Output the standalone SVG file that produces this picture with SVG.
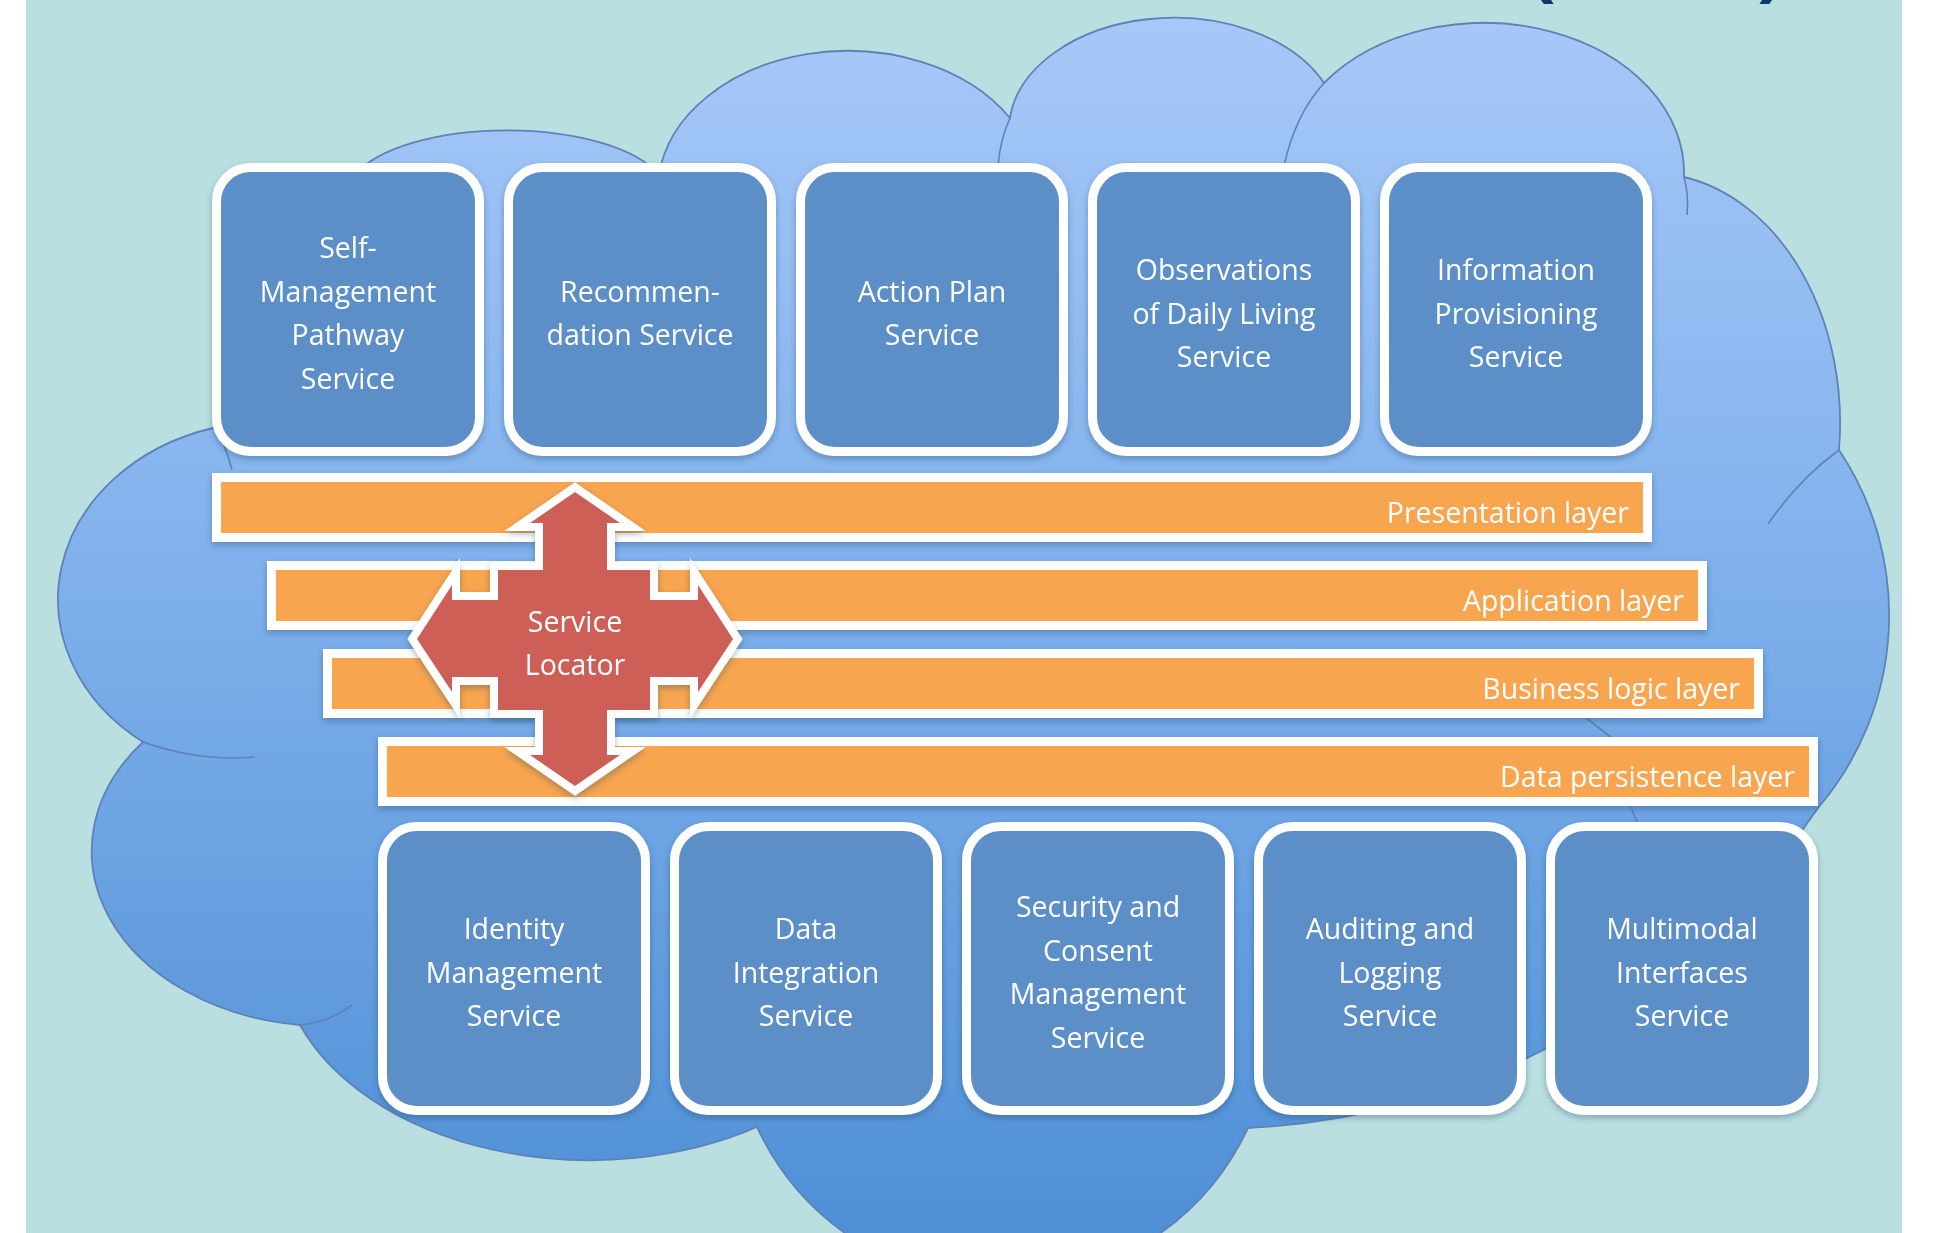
<svg xmlns="http://www.w3.org/2000/svg" width="1940" height="1233" viewBox="0 0 1940 1233">
<defs>
<linearGradient id="cloudGrad" gradientUnits="userSpaceOnUse" x1="0" y1="20" x2="0" y2="1233">
<stop offset="0" stop-color="#a6c8f8"/>
<stop offset="0.45" stop-color="#80b1ec"/>
<stop offset="1" stop-color="#4f8fd6"/>
</linearGradient>
<filter id="shadow" x="-10%" y="-10%" width="120%" height="130%">
<feDropShadow dx="0" dy="3" stdDeviation="3" flood-color="#203a5a" flood-opacity="0.35"/>
</filter>
</defs>
<style>
.svc rect{fill:#5b8ec8;stroke:#ffffff;stroke-width:9}
.lbl{font-family:"Open Sans","Noto Sans",sans-serif;font-size:28.5px;fill:#ffffff}
.svc text{text-anchor:middle}
.layer rect{fill:#f7a550;stroke:#ffffff;stroke-width:9}
.layer text{text-anchor:end}
.edge{fill:none;stroke:#5f82b6;stroke-width:1.6}
.paren{font-family:"Open Sans","Noto Sans",sans-serif;font-weight:bold;font-size:80px;fill:#0b3a6b}
</style>

<rect width="1940" height="1233" fill="#ffffff"/>
<rect x="26" y="0" width="1876" height="1233" fill="#badfe1"/>
<text class="paren" x="1529" y="-9">(</text>
<text class="paren" x="1757" y="-9">)</text>

<g id="cloud">
<path d="M 355 175 A 160 65 0 0 1 659 175 A 190 140 0 0 1 1010 118 A 165 112 0 0 1 1324 83 A 200 150 0 0 1 1684 177 A 190 250 0 0 1 1839 450 A 297 297 0 0 1 1818 808 A 730 730 0 0 1 1248 1128 A 271 271 0 0 1 757 1127 A 310 210 0 0 1 300 1025 A 235 175 0 0 1 143 742 A 212 178 0 0 1 213 428 L 330 300 Z" fill="url(#cloudGrad)" stroke="#5f82b6" stroke-width="1.8"/>
<path class="edge" d="M1010,118 Q1000,140 998,166"/>
<path class="edge" d="M1324,83 Q1295,115 1284,166"/>
<path class="edge" d="M1684,177 Q1689,195 1687,215"/>
<path class="edge" d="M1839,450 Q1800,478 1768,524"/>
<path class="edge" d="M214,428 Q226,445 232,470"/>
<path class="edge" d="M143,742 Q200,762 255,757"/>
<path class="edge" d="M300,1025 Q330,1022 352,1005"/>
<path class="edge" d="M1586,718 L1612,738"/>
<path class="edge" d="M1631,807 L1637,822"/>
</g>

<g id="connectors"></g>

<g id="top-services" filter="url(#shadow)">
<g id="node-self-management" class="svc">
<rect x="216.5" y="167.5" width="263" height="284" rx="34"/>
<text class="lbl" x="348" y="258">Self-</text>
<text class="lbl" x="348" y="302">Management</text>
<text class="lbl" x="348" y="345">Pathway</text>
<text class="lbl" x="348" y="389">Service</text>
</g>
<g id="node-recommendation" class="svc">
<rect x="508.5" y="167.5" width="263" height="284" rx="34"/>
<text class="lbl" x="640" y="302">Recommen-</text>
<text class="lbl" x="640" y="345">dation Service</text>
</g>
<g id="node-action-plan" class="svc">
<rect x="800.5" y="167.5" width="263" height="284" rx="34"/>
<text class="lbl" x="932" y="302">Action Plan</text>
<text class="lbl" x="932" y="345">Service</text>
</g>
<g id="node-observations" class="svc">
<rect x="1092.5" y="167.5" width="263" height="284" rx="34"/>
<text class="lbl" x="1224" y="280">Observations</text>
<text class="lbl" x="1224" y="323.5">of Daily Living</text>
<text class="lbl" x="1224" y="367">Service</text>
</g>
<g id="node-information" class="svc">
<rect x="1384.5" y="167.5" width="263" height="284" rx="34"/>
<text class="lbl" x="1516" y="280">Information</text>
<text class="lbl" x="1516" y="323.5">Provisioning</text>
<text class="lbl" x="1516" y="367">Service</text>
</g>
</g>

<g id="layers" filter="url(#shadow)">
<g id="layer-presentation" class="layer">
<rect x="216.5" y="477.5" width="1431" height="60"/>
<text class="lbl" x="1629" y="523">Presentation layer</text>
</g>
<g id="layer-application" class="layer">
<rect x="271.5" y="565.5" width="1431" height="60"/>
<text class="lbl" x="1684" y="611">Application layer</text>
</g>
<g id="layer-business" class="layer">
<rect x="327.5" y="653.5" width="1431" height="60"/>
<text class="lbl" x="1740" y="699">Business logic layer</text>
</g>
<g id="layer-data" class="layer">
<rect x="382.5" y="741.5" width="1431" height="60"/>
<text class="lbl" x="1795" y="787">Data persistence layer</text>
</g>
</g>

<g id="service-locator" filter="url(#shadow)">
<path d="M 575 492 L 620 523 L 607 523 L 607 570 L 650 570 L 650 600 L 698 600 L 698 585 L 733 639 L 698 692 L 698 677 L 650 677 L 650 710 L 607 710 L 607 755 L 620 755 L 575 786 L 530 755 L 543 755 L 543 710 L 498 710 L 498 677 L 452 677 L 452 692 L 417 639 L 452 585 L 452 600 L 498 600 L 498 570 L 543 570 L 543 523 L 530 523 Z" fill="#cd5f57" stroke="#ffffff" stroke-width="16" stroke-linejoin="miter" stroke-miterlimit="10" paint-order="stroke"/>
<text class="lbl" x="575" y="632" text-anchor="middle">Service</text>
<text class="lbl" x="575" y="675" text-anchor="middle">Locator</text>
</g>

<g id="bottom-services" filter="url(#shadow)">
<g id="node-identity" class="svc">
<rect x="382.5" y="826.5" width="263" height="284" rx="34"/>
<text class="lbl" x="514" y="939">Identity</text>
<text class="lbl" x="514" y="982.5">Management</text>
<text class="lbl" x="514" y="1026">Service</text>
</g>
<g id="node-data-integration" class="svc">
<rect x="674.5" y="826.5" width="263" height="284" rx="34"/>
<text class="lbl" x="806" y="939">Data</text>
<text class="lbl" x="806" y="982.5">Integration</text>
<text class="lbl" x="806" y="1026">Service</text>
</g>
<g id="node-security" class="svc">
<rect x="966.5" y="826.5" width="263" height="284" rx="34"/>
<text class="lbl" x="1098" y="917">Security and</text>
<text class="lbl" x="1098" y="960.5">Consent</text>
<text class="lbl" x="1098" y="1004">Management</text>
<text class="lbl" x="1098" y="1047.5">Service</text>
</g>
<g id="node-auditing" class="svc">
<rect x="1258.5" y="826.5" width="263" height="284" rx="34"/>
<text class="lbl" x="1390" y="939">Auditing and</text>
<text class="lbl" x="1390" y="982.5">Logging</text>
<text class="lbl" x="1390" y="1026">Service</text>
</g>
<g id="node-multimodal" class="svc">
<rect x="1550.5" y="826.5" width="263" height="284" rx="34"/>
<text class="lbl" x="1682" y="939">Multimodal</text>
<text class="lbl" x="1682" y="982.5">Interfaces</text>
<text class="lbl" x="1682" y="1026">Service</text>
</g>
</g>
</svg>
